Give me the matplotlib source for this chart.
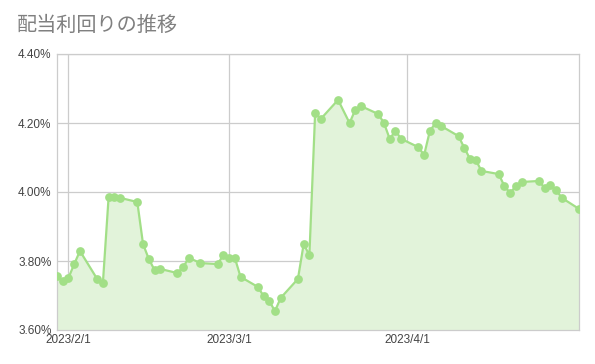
import numpy as np
import pandas as pd
import matplotlib
matplotlib.use("Agg")
import matplotlib.pyplot as plt
import matplotlib.dates as mdates
from matplotlib.ticker import FuncFormatter

plt.rcParams['font.family'] = ['Liberation Sans', 'Noto Sans CJK JP', 'DejaVu Sans']

title = "配当利回りの推移"

dates = [
	"2023-01-30", "2023-01-31", "2023-02-01", "2023-02-02", "2023-02-03",
	"2023-02-06", "2023-02-07", "2023-02-08", "2023-02-09", "2023-02-10",
	"2023-02-13", "2023-02-14", "2023-02-15", "2023-02-16", "2023-02-17",
	"2023-02-20", "2023-02-21", "2023-02-22", "2023-02-24", "2023-02-27",
	"2023-02-28", "2023-03-01", "2023-03-02", "2023-03-03", "2023-03-06",
	"2023-03-07", "2023-03-08", "2023-03-09", "2023-03-10", "2023-03-13",
	"2023-03-14", "2023-03-15", "2023-03-16", "2023-03-17", "2023-03-20",
	"2023-03-22", "2023-03-23", "2023-03-24", "2023-03-27", "2023-03-28",
	"2023-03-29", "2023-03-30", "2023-03-31", "2023-04-03", "2023-04-04",
	"2023-04-05", "2023-04-06", "2023-04-07", "2023-04-10", "2023-04-11",
	"2023-04-12", "2023-04-13", "2023-04-14", "2023-04-17", "2023-04-18",
	"2023-04-19", "2023-04-20", "2023-04-21", "2023-04-24", "2023-04-25",
	"2023-04-26", "2023-04-27", "2023-04-28", "2023-05-01",
]

yields = [
	3.757, 3.742, 3.751, 3.791, 3.829,
	3.748, 3.736, 3.986, 3.986, 3.983,
	3.971, 3.849, 3.806, 3.774, 3.777,
	3.765, 3.783, 3.809, 3.794, 3.791,
	3.817, 3.809, 3.809, 3.754, 3.725,
	3.699, 3.684, 3.655, 3.693, 3.748,
	3.849, 3.817, 4.229, 4.212, 4.267,
	4.200, 4.238, 4.249, 4.226, 4.200,
	4.154, 4.177, 4.154, 4.130, 4.107,
	4.177, 4.200, 4.191, 4.162, 4.128,
	4.096, 4.093, 4.061, 4.052, 4.017,
	3.997, 4.017, 4.029, 4.032, 4.012,
	4.020, 4.006, 3.983, 3.951,
]

x_ticks = ["2023-02-01", "2023-03-01", "2023-04-01"]
y_ticks = [3.60, 3.80, 4.00, 4.20, 4.40]

line_colour = "#a2df87"
fill_colour = "#e2f3da"
grid_colour = "#cccccc"
text_colour = "#444444"

x = pd.to_datetime(dates)

fig = plt.figure(figsize=(5.95, 3.64), dpi=100)
ax = fig.add_axes([57 / 595, 1 - 330 / 364, (579 - 57) / 595, (330 - 54) / 364])

ax.fill_between(x, yields, y_ticks[0], color=fill_colour, linewidth=0, zorder=1)
ax.plot(x, yields, color=line_colour, linewidth=1.6, marker="o", markersize=6.3,
		markeredgewidth=0, zorder=3)

ax.set_xlim(pd.Timestamp("2023-01-30"), pd.Timestamp("2023-05-01"))
ax.set_ylim(y_ticks[0], y_ticks[-1])
ax.set_yticks(y_ticks)
ax.yaxis.set_major_formatter(FuncFormatter(lambda v, p: f"{v:.2f}%"))
ax.set_xticks(pd.to_datetime(x_ticks))
ax.xaxis.set_major_formatter(mdates.DateFormatter("%Y/%-m/%-d"))

ax.grid(True, color=grid_colour, linewidth=0.9, zorder=0)
ax.set_axisbelow(True)
for spine in ax.spines.values():
	spine.set_color(grid_colour)
	spine.set_linewidth(0.9)
ax.tick_params(axis="both", length=0, labelsize=8.5, labelcolor=text_colour)
ax.tick_params(axis="y", pad=4)
ax.tick_params(axis="x", pad=3)

fig.text(17 / 595, 1 - 25 / 364, title, fontsize=14.5, color="#808080",
		 family=['Noto Sans CJK JP', 'DejaVu Sans'], va="center", ha="left")

fig.savefig("out.png", dpi=100)
